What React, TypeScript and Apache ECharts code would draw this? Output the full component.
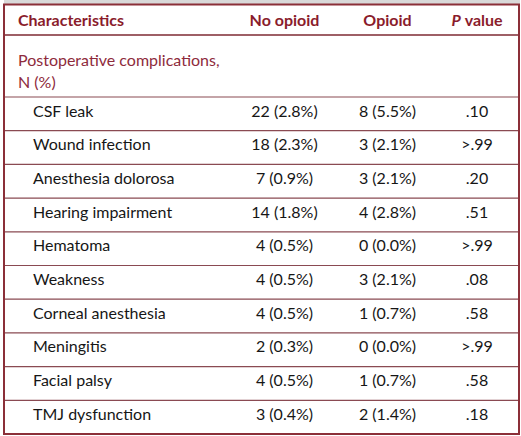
import React, { useEffect, useRef } from "react";
import * as echarts from "echarts";

const headers = ["Characteristics", "No opioid", "Opioid", "P value"];
const groupLabel = ["Postoperative complications,", "N (%)"];
const labels = [
  "CSF leak",
  "Wound infection",
  "Anesthesia dolorosa",
  "Hearing impairment",
  "Hematoma",
  "Weakness",
  "Corneal anesthesia",
  "Meningitis",
  "Facial palsy",
  "TMJ dysfunction",
];
const noOpioidN = [22, 18, 7, 14, 4, 4, 4, 2, 4, 3];
const noOpioidPct = [2.8, 2.3, 0.9, 1.8, 0.5, 0.5, 0.5, 0.3, 0.5, 0.4];
const opioidN = [8, 3, 3, 4, 0, 3, 1, 0, 1, 2];
const opioidPct = [5.5, 2.1, 2.1, 2.8, 0.0, 2.1, 0.7, 0.0, 0.7, 1.4];
const pValues = [".10", ">.99", ".20", ".51", ">.99", ".08", ".58", ">.99", ".58", ".18"];

const FONT = "Lato";
const FS = 16;
const HEAD_COLOR = "#8a1c2c";
const GROUP_COLOR = "#8e2b3c";
const BODY_COLOR = "#161616";
const BORDER = "#8b2f38";
const RULE = "#8a4a52";

export default function App() {
  const ref = useRef<HTMLDivElement>(null);
  useEffect(() => {
    document.body.style.margin = "0";
    const chart = echarts.init(ref.current!, null, { renderer: "svg" });
    const colX = [18, 284.5, 387.5, 477];
    const rowTop = 97;
    const pitch = 33.7;
    const g: any[] = [];
    g.push({ type: "rect", shape: { x: 4, y: 0, width: 516, height: 4 }, style: { fill: "#d9d9d9" }, silent: true });
    const headStyle = (text: string, align: string) => ({
      text, fontFamily: FONT, fontSize: FS, fontWeight: "bold", fill: HEAD_COLOR, align, verticalAlign: "middle",
    });
    g.push({ type: "text", x: colX[0], y: 19, style: headStyle(headers[0], "left") });
    g.push({ type: "text", x: colX[1], y: 19, style: headStyle(headers[1], "center") });
    g.push({ type: "text", x: colX[2], y: 19, style: headStyle(headers[2], "center") });
    g.push({
      type: "text", x: colX[3], y: 19,
      style: {
        text: "{i|P} {b|value}",
        align: "center", verticalAlign: "middle",
        fontFamily: FONT, fontSize: FS, fontWeight: "bold", fill: HEAD_COLOR,
        rich: {
          i: { fontFamily: FONT, fontSize: FS, fontWeight: "bold", fontStyle: "italic", fill: HEAD_COLOR },
          b: { fontFamily: FONT, fontSize: FS, fontWeight: "bold", fill: HEAD_COLOR },
        },
      },
    });
    g.push({ type: "line", shape: { x1: 4, y1: 35, x2: 518, y2: 35 }, style: { stroke: "#7e2a33", lineWidth: 1.5 } });
    g.push({
      type: "text", x: colX[0], y: 59.5,
      style: { text: groupLabel[0], fontFamily: FONT, fontSize: FS, fill: GROUP_COLOR, align: "left", verticalAlign: "middle" },
    });
    g.push({
      type: "text", x: colX[0], y: 81,
      style: { text: groupLabel[1], fontFamily: FONT, fontSize: FS, fill: GROUP_COLOR, align: "left", verticalAlign: "middle" },
    });
    labels.forEach((lab, i) => {
      const top = rowTop + i * pitch;
      g.push({ type: "line", shape: { x1: 4, y1: top, x2: 518, y2: top }, style: { stroke: RULE, lineWidth: 1.2 } });
      const cy = top + 13;
      const cells = [
        lab,
        `${noOpioidN[i]} (${noOpioidPct[i].toFixed(1)}%)`,
        `${opioidN[i]} (${opioidPct[i].toFixed(1)}%)`,
        pValues[i],
      ];
      cells.forEach((t, c) => {
        g.push({
          type: "text", x: c === 0 ? 33 : colX[c], y: cy,
          style: { text: t, fontFamily: FONT, fontSize: FS, fill: BODY_COLOR, align: c === 0 ? "left" : "center", verticalAlign: "middle" },
        });
      });
    });
    g.push({ type: "rect", shape: { x: 4, y: 4.5, width: 515, height: 429.5 }, style: { fill: "none", stroke: BORDER, lineWidth: 2 } });
    chart.setOption({ animation: false, graphic: g });
    return () => chart.dispose();
  }, []);
  return <div ref={ref} style={{ width: 521, height: 436, background: "#fff" }} />;
}
